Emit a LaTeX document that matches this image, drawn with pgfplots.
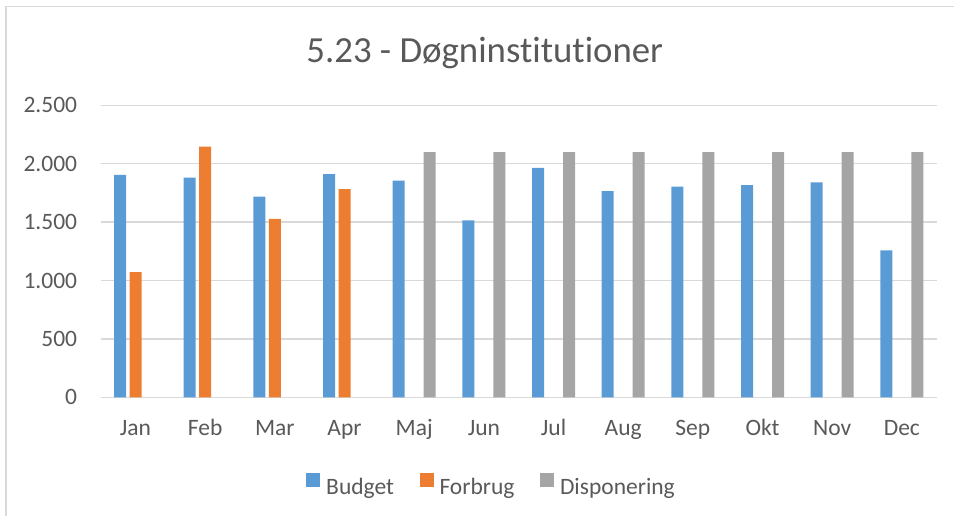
\documentclass[border=0pt]{standalone}
\usepackage{pgfplots}
\pgfplotsset{compat=1.18}
\usepackage{fontspec}
\setmainfont{Carlito}[Ligatures=NoCommon]
\definecolor{cBud}{HTML}{5B9BD5}
\definecolor{cFor}{HTML}{ED7D31}
\definecolor{cDis}{HTML}{A5A5A5}
\definecolor{cGrid}{HTML}{D9D9D9}
\definecolor{cText}{HTML}{595959}
\begin{document}
\begin{tikzpicture}
\useasboundingbox (0pt,0pt) rectangle (954pt,515pt);
% chart frame (only top and left edges are inside the picture)
\draw[cGrid, line width=1.3pt] (6pt,-10pt) -- (6pt,508.3pt) -- (970pt,508.3pt);
\begin{axis}[
  at={(100.7pt,117.7pt)}, anchor=south west,
  scale only axis, width=836pt, height=292pt,
  xmin=-0.5, xmax=11.5, ymin=0, ymax=2500,
  xtick={0,...,11},
  xticklabels={Jan,Feb,Mar,Apr,Maj,Jun,Jul,Aug,Sep,Okt,Nov,Dec},
  ytick={0,500,...,2500},
  major tick length=0pt,
  axis line style={draw=none},
  ymajorgrids, grid style={cGrid, line width=1.3pt},
  /pgf/number format/.cd, 1000 sep={.}, assume math mode=true, /pgfplots/.cd,
  ticklabel style={font=\fontsize{23.5}{28}\selectfont, text=cText, inner sep=0pt},
  yticklabel style={anchor=east, xshift=-23.4pt},
  xticklabel style={anchor=base, yshift=-38.4pt},
  legend columns=3,
  legend image code/.code={\fill[#1] (0pt,0pt) rectangle (14pt,14pt);},
  legend style={draw=none, fill=none, inner sep=0pt, at={(0.2456,-0.2978)}, anchor=west,
    font=\fontsize{23.5}{28}\selectfont, text=cText, nodes={inner sep=0pt},
    /tikz/every odd column/.append style={column sep=6pt},
    /tikz/every even column/.append style={column sep=25.5pt}},
]
\addplot[ybar, bar width=12pt, bar shift=-15.5pt, fill=cBud, draw=none] coordinates {
  (0,1905) (1,1880) (2,1718) (3,1911) (4,1855) (5,1515)
  (6,1965) (7,1766) (8,1803) (9,1817) (10,1840) (11,1257)
};
\addplot[ybar, bar width=12pt, bar shift=0pt, fill=cFor, draw=none] coordinates {
  (0,1072) (1,2147) (2,1527) (3,1783)
};
\addplot[ybar, bar width=12pt, bar shift=15.5pt, fill=cDis, draw=none] coordinates {
  (4,2100) (5,2100) (6,2100) (7,2100) (8,2100) (9,2100) (10,2100) (11,2100)
};
\legend{Budget, Forbrug, Disponering}
\end{axis}
\node[anchor=base, inner sep=0pt, font=\fontsize{36.8}{44}\selectfont, text=cText]
  at (484.8pt,452.7pt) {5.23 - Døgninstitutioner};
\end{tikzpicture}
\end{document}
